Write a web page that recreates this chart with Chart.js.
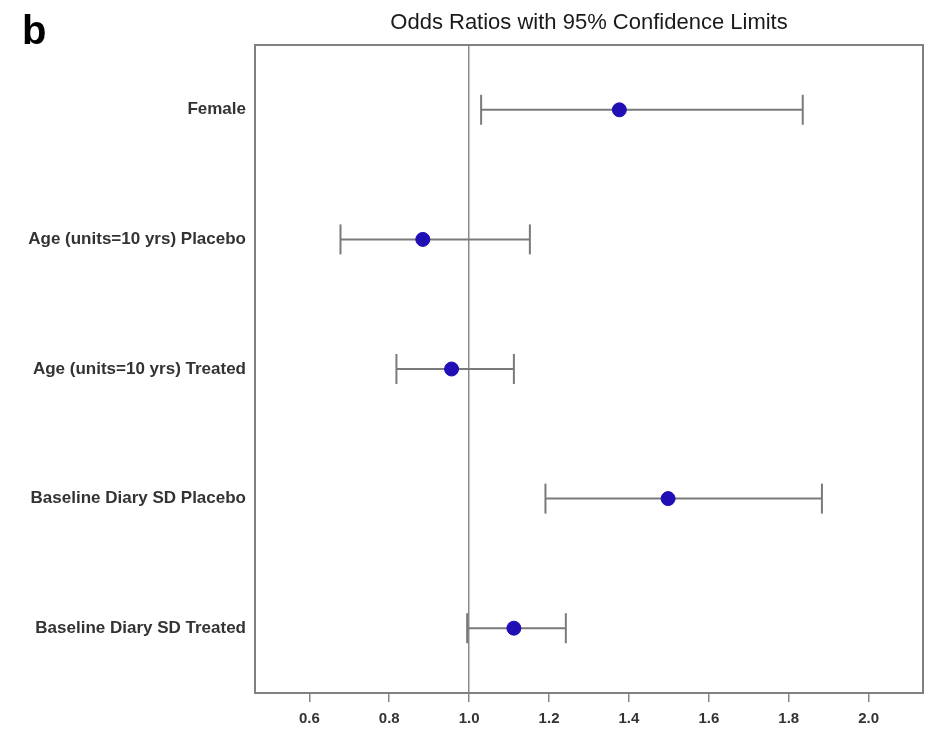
<!DOCTYPE html>
<html>
<head>
<meta charset="utf-8">
<script src="https://cdn.jsdelivr.net/npm/chart.js@4.4.1/dist/chart.umd.min.js"></script>
<style>
  html, body { margin: 0; padding: 0; background: #fff; }
  #wrap { position: relative; width: 940px; height: 733px; }
</style>
</head>
<body>
<div id="wrap"><canvas id="forest-chart"></canvas></div>
<script>
// data
const categories = [
  'Female',
  'Age (units=10 yrs) Placebo',
  'Age (units=10 yrs) Treated',
  'Baseline Diary SD Placebo',
  'Baseline Diary SD Treated'
];
const oddsRatios = [1.376, 0.884, 0.956, 1.498, 1.112];
const lowerLimits = [1.030, 0.678, 0.818, 1.191, 0.995];
const upperLimits = [1.835, 1.152, 1.112, 1.883, 1.242];
const xTicks = [0.6, 0.8, 1.0, 1.2, 1.4, 1.6, 1.8, 2.0];

const chartTitle = 'Odds Ratios with 95% Confidence Limits';
const panelLetter = 'b';

const FONT = "'Liberation Sans', Arial, sans-serif";
const lineGray = '#7a7a7a';
const dotBlue = '#1f0fb4';

// one dataset per confidence interval, caps drawn as rotated line points
const ciDatasets = categories.map((cat, i) => ({
  type: 'line',
  data: [{ x: lowerLimits[i], y: cat }, { x: upperLimits[i], y: cat }],
  borderColor: lineGray,
  borderWidth: 2,
  pointStyle: 'line',
  pointRotation: 90,
  pointRadius: 15,
  pointBorderColor: lineGray,
  pointBorderWidth: 2,
  order: 2
}));

const frameAndText = {
  id: 'frameAndText',
  afterDraw(chart) {
    const { ctx, chartArea } = chart;
    ctx.save();
    ctx.strokeStyle = '#808080';
    ctx.lineWidth = 2;
    ctx.strokeRect(chartArea.left, chartArea.top, chartArea.right - chartArea.left, chartArea.bottom - chartArea.top);

    ctx.fillStyle = '#1a1a1a';
    ctx.textAlign = 'center';
    ctx.textBaseline = 'alphabetic';
    ctx.font = `22px ${FONT}`;
    ctx.fillText(chartTitle, (chartArea.left + chartArea.right) / 2, 29);

    ctx.fillStyle = '#000';
    ctx.textAlign = 'left';
    ctx.font = `bold 40px ${FONT}`;
    ctx.fillText(panelLetter, 22, 44);
    ctx.restore();
  }
};

const ctx = document.getElementById('forest-chart');

new Chart(ctx, {
  type: 'scatter',
  data: {
    datasets: [
      {
        data: categories.map((cat, i) => ({ x: oddsRatios[i], y: cat })),
        backgroundColor: dotBlue,
        borderColor: dotBlue,
        pointRadius: 7,
        order: 0
      },
      ...ciDatasets
    ]
  },
  options: {
    responsive: true,
    maintainAspectRatio: false,
    animation: false,
    layout: {
      padding: { top: 45, right: 8, left: 0, bottom: 0 }
    },
    scales: {
      x: {
        type: 'linear',
        min: 0.464,
        max: 2.136,
        afterBuildTicks: (scale) => {
          scale.ticks = xTicks.map(v => ({ value: v }));
        },
        afterFit: (scale) => { scale.height = 40; },
        border: { display: false },
        grid: {
          color: (c) => (c.tick && Math.abs(c.tick.value - 1) < 1e-9) ? '#8a8a8a' : 'rgba(0,0,0,0)',
          lineWidth: 1.5,
          tickColor: '#888',
          tickLength: 9,
          tickWidth: 1.5
        },
        ticks: {
          callback: (v) => Number(v).toFixed(1),
          color: '#333',
          padding: 8,
          maxRotation: 0,
          font: { size: 15, weight: 'bold', family: FONT }
        }
      },
      y: {
        type: 'category',
        labels: categories,
        offset: true,
        afterFit: (scale) => { scale.width = 255; },
        border: { display: false },
        grid: { display: false, drawTicks: false },
        ticks: {
          color: '#333',
          padding: 9,
          font: { size: 17, weight: 'bold', family: FONT }
        }
      }
    },
    plugins: {
      legend: { display: false },
      tooltip: { enabled: false },
      title: { display: false }
    }
  },
  plugins: [frameAndText]
});
</script>
</body>
</html>
